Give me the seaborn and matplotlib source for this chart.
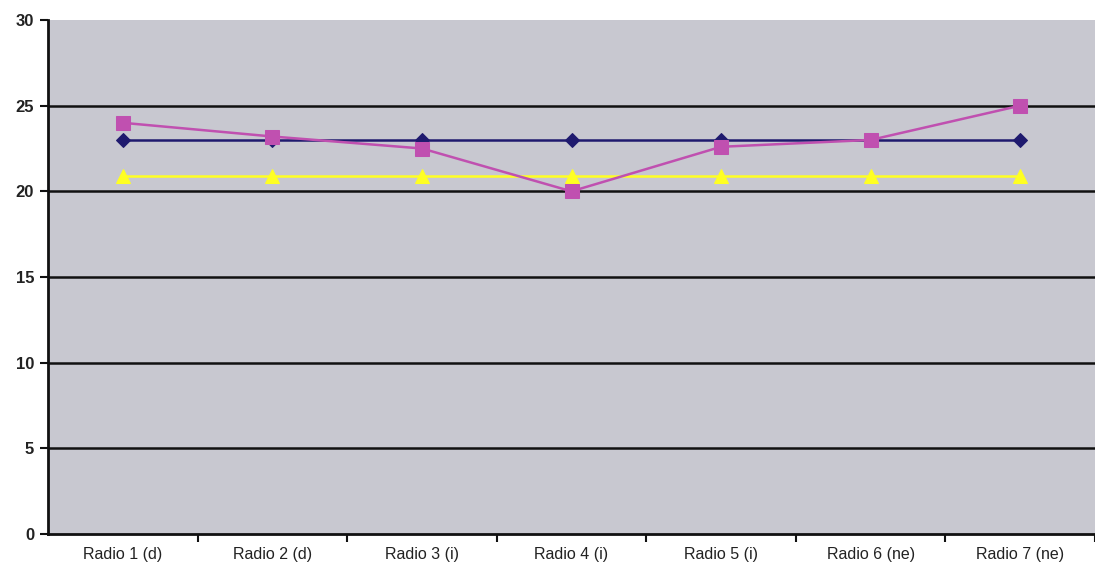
import matplotlib
matplotlib.use("Agg")
import matplotlib.pyplot as plt
import seaborn as sns
import pandas as pd
import numpy as np

categories = ["Radio 1 (d)", "Radio 2 (d)", "Radio 3 (i)", "Radio 4 (i)",
              "Radio 5 (i)", "Radio 6 (ne)", "Radio 7 (ne)"]
series_navy = [23, 23, 23, 23, 23, 23, 23]
series_magenta = [24.0, 23.2, 22.5, 20.0, 22.6, 23.0, 25.0]
series_yellow = [20.9, 20.9, 20.9, 20.9, 20.9, 20.9, 20.9]
y_ticks = [0, 5, 10, 15, 20, 25, 30]

sns.set_theme(style="white")
plt.rcParams['font.family'] = ['Liberation Sans', 'DejaVu Sans']

fig = plt.figure(figsize=(10.95, 5.75), dpi=100)
ax = fig.add_axes([48/1095, 1 - 534/575, 1 - 48/1095, (534 - 20)/575])
ax.set_facecolor("#c8c8d0")

x = np.arange(len(categories))
specs = [
    (series_navy, "#1f1a6e", "D", 7.5),
    (series_yellow, "#ffff22", "^", 9.5),
    (series_magenta, "#c050b0", "s", 9.5),
]
for vals, col, mk, ms in specs:
    df = pd.DataFrame({"x": x, "y": vals})
    sns.lineplot(data=df, x="x", y="y", ax=ax, color=col, marker=mk,
                 markersize=ms, markeredgecolor=col, linewidth=1.8, zorder=3)

ax.set_ylim(0, 30)
ax.set_xlim(-0.5, (1095 - 124) / 151.0)
ax.set_yticks(y_ticks)
ax.set_yticklabels([str(t) for t in y_ticks], fontsize=12, fontweight="bold")
for t in y_ticks[1:-1]:
    ax.axhline(t, color="#111111", linewidth=1.8, zorder=1)

ax.set_xticks(x)
ax.set_xticklabels(categories, fontsize=11.5)
ax.set_xticks(np.arange(len(categories)) + 0.5, minor=True)
ax.tick_params(axis="x", which="major", bottom=True, length=0, pad=9)
ax.tick_params(axis="x", which="minor", bottom=True, length=6, width=1.5,
               color="#111111", direction="out")
ax.tick_params(axis="y", left=True, length=6, width=1.5, color="#111111",
               direction="out", pad=4)
ax.tick_params(axis="both", labelcolor="#222222")

for s in ["top", "right"]:
    ax.spines[s].set_visible(False)
for s in ["left", "bottom"]:
    ax.spines[s].set_color("#111111")
    ax.spines[s].set_linewidth(2)
ax.set_xlabel("")
ax.set_ylabel("")
if ax.get_legend():
    ax.get_legend().remove()

fig.savefig("out.png", dpi=100, facecolor="white")
